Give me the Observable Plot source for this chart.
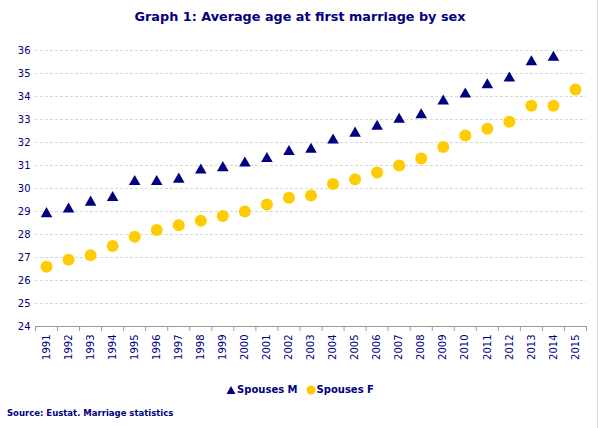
<!DOCTYPE html>
<html>
<head>
<meta charset="utf-8">
<script src="https://cdn.jsdelivr.net/npm/d3@7"></script>
<script src="https://cdn.jsdelivr.net/npm/@observablehq/plot@0.6"></script>
<style>
  html, body { margin: 0; padding: 0; background: #fff; }
  body { width: 600px; height: 428px; position: relative; overflow: hidden; font-family: "DejaVu Sans", Verdana, sans-serif; color: #000080; }
  #title { position: absolute; top: 9px; left: 0; width: 600px; text-align: center; font-weight: bold; font-size: 12.8px; }
  #chart { position: absolute; top: 36px; left: 0; }
  #legend { position: absolute; top: 384px; left: 0; width: 600px; text-align: center; font-weight: bold; font-size: 10px; }
  #legend span { display: inline-flex; align-items: center; margin: 0 4px; }
  #legend svg { margin-right: 1px; }
  #source { position: absolute; top: 408px; left: 7px; font-weight: bold; font-size: 8.5px; }
  #frame { position: absolute; top: 0; left: 597px; width: 1px; height: 428px; background: #ddd; }
</style>
</head>
<body>
<div id="title">Graph 1: Average age at first marriage by sex</div>
<div id="chart"></div>
<div id="legend"></div>
<div id="source">Source: Eustat. Marriage statistics</div>
<div id="frame"></div>
<script>
const years = [1991, 1992, 1993, 1994, 1995, 1996, 1997, 1998, 1999, 2000, 2001, 2002, 2003, 2004, 2005, 2006, 2007, 2008, 2009, 2010, 2011, 2012, 2013, 2014, 2015];
const spousesM = [28.9, 29.1, 29.4, 29.6, 30.3, 30.3, 30.4, 30.8, 30.9, 31.1, 31.3, 31.6, 31.7, 32.1, 32.4, 32.7, 33.0, 33.2, 33.8, 34.1, 34.5, 34.8, 35.5, 35.7, null];
const spousesF = [26.6, 26.9, 27.1, 27.5, 27.9, 28.2, 28.4, 28.6, 28.8, 29.0, 29.3, 29.6, 29.7, 30.2, 30.4, 30.7, 31.0, 31.3, 31.8, 32.3, 32.6, 32.9, 33.6, 33.6, 34.3];
const yTicks = [24, 25, 26, 27, 28, 29, 30, 31, 32, 33, 34, 35, 36];
const seriesNames = ["Spouses M", "Spouses F"];

const navy = "#000080";
const yellow = "#FFCC00";

const dataM = years.map((y, i) => ({year: y, value: spousesM[i]})).filter(d => d.value != null);
const dataF = years.map((y, i) => ({year: y, value: spousesF[i]})).filter(d => d.value != null);
const bounds = years.map(y => y - 0.5).concat([years[years.length - 1] + 0.5]);

const chart = Plot.plot({
  width: 600,
  height: 330,
  marginTop: 14,
  marginBottom: 40,
  marginLeft: 35,
  marginRight: 14,
  style: {fontFamily: "DejaVu Sans, Verdana, sans-serif", fontSize: "10px", color: navy, background: "transparent"},
  x: {domain: [bounds[0], bounds[bounds.length - 1]]},
  y: {domain: [24, 36]},
  marks: [
    Plot.gridY(yTicks.slice(1), {stroke: "#d9d9d9", strokeOpacity: 1, strokeDasharray: "3,2"}),
    Plot.axisY(yTicks, {tickSize: 0, tickPadding: 5, fill: navy, label: null, tickFormat: d => String(d)}),
    Plot.ruleY([24], {stroke: "#999"}),
    Plot.axisX(bounds, {tickSize: 5, stroke: "#999", tickFormat: () => "", label: null}),
    Plot.axisX(years, {tickSize: 0, tickPadding: 8, tickRotate: -90, fill: navy, label: null, tickFormat: d => String(d)}),
    Plot.dot(dataF, {x: "year", y: "value", r: 6, fill: yellow, stroke: "none"}),
    Plot.dot(dataM, {x: "year", y: "value", r: 4.3, symbol: "triangle", fill: navy, stroke: "none"})
  ]
});
document.getElementById("chart").appendChild(chart);

const legend = document.getElementById("legend");
const symbols = [
  `<svg width="10" height="10"><path d="M5,1 L9.5,9 L0.5,9 Z" fill="${navy}"/></svg>`,
  `<svg width="10" height="10"><circle cx="5" cy="5" r="4.5" fill="${yellow}"/></svg>`
];
seriesNames.forEach((name, i) => {
  const s = document.createElement("span");
  s.innerHTML = symbols[i] + name;
  legend.appendChild(s);
});
</script>
</body>
</html>
